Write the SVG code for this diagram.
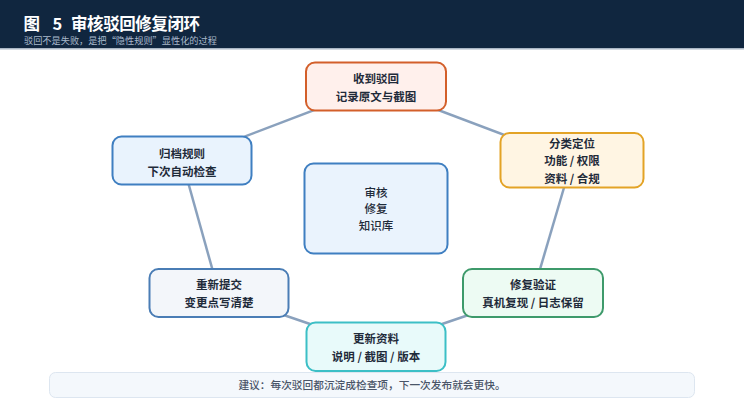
<svg xmlns="http://www.w3.org/2000/svg" width="744" height="414" viewBox="0 0 744 414">
<style>
.t{font-family:"Noto Sans CJK SC","Noto Sans",sans-serif;}
.ti{font-family:"Noto Sans CJK SC","Noto Sans",sans-serif;font-size:16.5px;font-weight:700;fill:#ffffff;}
.nt{font-family:"Noto Sans CJK SC","Noto Sans",sans-serif;font-size:11.5px;font-weight:700;fill:#1f2b3a;text-anchor:middle;}
.ct{font-family:"Noto Sans CJK SC","Noto Sans",sans-serif;font-size:11.5px;font-weight:500;fill:#1f2b3a;text-anchor:middle;}
.node{stroke-width:2;}
.edge{stroke:#8aa1bd;stroke-width:2.5;fill:none;}
</style>
<rect x="0" y="0" width="744" height="414" fill="#ffffff"/>
<rect x="0" y="0" width="744" height="48" fill="#10263f"/>
<rect x="0" y="48" width="744" height="1.5" fill="#a9b6c4"/>
<text class="ti" x="23.5" y="29.5">图</text>
<text class="ti" x="52.5" y="29.5">5</text>
<text class="ti" x="71" y="29.5" textLength="129">审核驳回修复闭环</text>
<text class="t" x="24" y="43.5" font-size="9.2" fill="#a9b9cc">驳回不是失败，是把“隐性规则”显性化的过程</text>
<g id="connectors">
<line class="edge" x1="376" y1="86.5" x2="182" y2="160.5"/>
<line class="edge" x1="376" y1="86.5" x2="572" y2="160.5"/>
<line class="edge" x1="572" y1="160.5" x2="533" y2="293"/>
<line class="edge" x1="533" y1="293" x2="376" y2="346.5"/>
<line class="edge" x1="376" y1="346.5" x2="219" y2="293"/>
<line class="edge" x1="219" y1="293" x2="182" y2="160.5"/>
</g>
<g id="node-receive">
<rect class="node" x="306" y="62.5" width="140" height="48" rx="9" fill="#fff0ec" stroke="#d35f2a"/>
<text class="nt" x="376" y="82.5">收到驳回</text>
<text class="nt" x="376" y="100.5">记录原文与截图</text>
</g>
<g id="node-archive">
<rect class="node" x="112.5" y="136.5" width="139" height="48" rx="9" fill="#e9f3fd" stroke="#3f7fc1"/>
<text class="nt" x="182" y="157.5">归档规则</text>
<text class="nt" x="182" y="175.5">下次自动检查</text>
</g>
<g id="node-center">
<rect class="node" x="304.5" y="163.5" width="143" height="90" rx="9" fill="#eaf3fd" stroke="#3f7fc1"/>
<text class="ct" x="376" y="196.5">审核</text>
<text class="ct" x="376" y="213">修复</text>
<text class="ct" x="376" y="229.5">知识库</text>
</g>
<g id="node-classify">
<rect class="node" x="500.5" y="133" width="143" height="54.5" rx="9" fill="#fff5e3" stroke="#e3a326"/>
<text class="nt" x="572" y="147.5">分类定位</text>
<text class="nt" x="572" y="165">功能 / 权限</text>
<text class="nt" x="572" y="182.5">资料 / 合规</text>
</g>
<g id="node-verify">
<rect class="node" x="463" y="269" width="140" height="48" rx="9" fill="#edfbf3" stroke="#3e9a6b"/>
<text class="nt" x="533" y="289">修复验证</text>
<text class="nt" x="533" y="307">真机复现 / 日志保留</text>
</g>
<g id="node-update">
<rect class="node" x="306.5" y="322.5" width="139" height="48.5" rx="9" fill="#e8fafa" stroke="#3cbfc6"/>
<text class="nt" x="376" y="342.5">更新资料</text>
<text class="nt" x="376" y="360.5">说明 / 截图 / 版本</text>
</g>
<g id="node-resubmit">
<rect class="node" x="149.5" y="269" width="139" height="48" rx="9" fill="#f3f6fa" stroke="#4a7db5"/>
<text class="nt" x="219" y="288.5">重新提交</text>
<text class="nt" x="219" y="306.5">变更点写清楚</text>
</g>
<g id="footer">
<rect x="49.5" y="372.5" width="645" height="25" rx="6" fill="#f4f8fc" stroke="#dde6f0" stroke-width="1"/>
<text class="t" x="372" y="389" font-size="10.7" font-weight="500" fill="#4a5568" text-anchor="middle">建议：每次驳回都沉淀成检查项，下一次发布就会更快。</text>
</g>
</svg>
